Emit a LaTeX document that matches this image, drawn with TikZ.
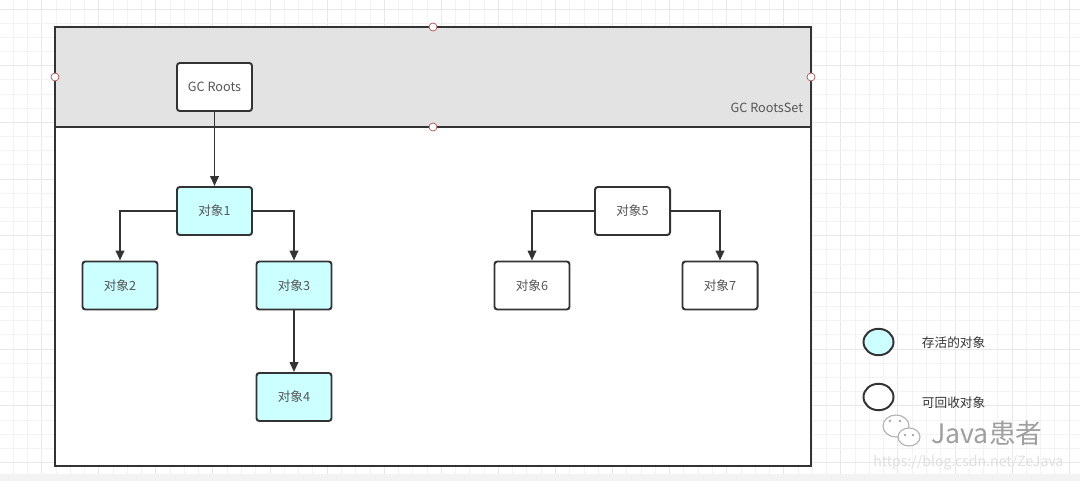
\documentclass[tikz,border=0pt]{standalone}
\usepackage{fontspec}
\setmainfont{Noto Sans CJK SC}
\usetikzlibrary{arrows.meta,shapes.geometric}

\definecolor{linec}{HTML}{333333}
\definecolor{livec}{HTML}{CCFFFF}
\definecolor{bandc}{HTML}{E3E3E3}
\definecolor{txtc}{HTML}{555555}
\definecolor{gridminor}{HTML}{F3F3F3}
\definecolor{gridmajor}{HTML}{E8E8E8}
\definecolor{handlec}{HTML}{B05050}

\begin{document}
\begin{tikzpicture}[x=0.025cm, y=-0.025cm,
		obj/.style={draw=linec, line width=1.4pt, rounded corners=2pt, fill=white,
			minimum width=1.875cm, minimum height=1.2cm, inner sep=0pt, text=txtc,
			font=\fontsize{9}{10}\selectfont},
		live/.style={obj, fill=livec},
		arr/.style={draw=linec, line width=1.4pt, -{Triangle[length=7pt,width=6pt]}},
		link/.style={draw=linec, line width=1.4pt},
		handle/.style={draw=handlec, fill=white, line width=0.5pt},
		legend/.style={ellipse, draw=linec, line width=1.4pt, minimum width=0.75cm, minimum height=0.66cm, inner sep=0pt},
		legtext/.style={anchor=west, text=linec, font=\fontsize{9}{10}\selectfont}]
	
	\useasboundingbox (0,0) rectangle (1080,481);
	
	% grid
	\fill[white] (0,0) rectangle (1080,481);
	\foreach \k in {0,...,75} {
		\pgfmathsetmacro{\gx}{13.17+14.27*\k}
		\pgfmathtruncatemacro{\gm}{mod(\k+2,4)}
		\ifnum\gm=0
			\draw[gridmajor, line width=0.7pt] (\gx,0) -- (\gx,474);
		\else
			\draw[gridminor, line width=0.6pt] (\gx,0) -- (\gx,474);
		\fi
	}
	\foreach \k in {0,...,33} {
		\pgfmathsetmacro{\gy}{9+14.17*\k}
		\pgfmathtruncatemacro{\gm}{mod(\k,4)}
		\ifnum\gm=0
			\draw[gridmajor, line width=0.7pt] (0,\gy) -- (1080,\gy);
		\else
			\draw[gridminor, line width=0.6pt] (0,\gy) -- (1080,\gy);
		\fi
	}
	\fill[gridminor] (0,474) rectangle (1080,481);
	
	% frame
	\fill[white] (55,27) rectangle (811,466);
	\fill[bandc] (55,27) rectangle (811,127);
	\draw[link] (55,127) -- (811,127);
	\draw[link] (55,27) rectangle (811,466);
	\node[anchor=east, text=txtc, font=\fontsize{9}{10}\selectfont] (rootset) at (808,108) {GC RootsSet};
	
	\foreach \hx/\hy in {433/27, 55/77, 811/77, 433/127}
		\draw[handle] (\hx,\hy) circle (4);
	
	% objects
	\node[obj] (roots) at (214.5,87) {GC Roots};
	\node[live] (o1) at (214.5,211) {对象1};
	\node[live] (o2) at (120,285.5) {对象2};
	\node[live] (o3) at (294,285.5) {对象3};
	\node[live] (o4) at (294,397) {对象4};
	\node[obj] (o5) at (632.5,211) {对象5};
	\node[obj] (o6) at (532,285.5) {对象6};
	\node[obj] (o7) at (720,285.5) {对象7};
	
	\draw[arr] (roots) -- (o1);
	\draw[arr] (o1.west) -| (o2.north);
	\draw[arr] (o1.east) -| (o3.north);
	\draw[arr] (o3) -- (o4);
	\draw[arr] (o5.west) -| (o6.north);
	\draw[arr] (o5.east) -| (o7.north);
	
	% legend
	\node[legend, fill=livec] (leg1) at (878.5,342) {};
	\node[legend, fill=white] (leg2) at (878.5,397) {};
	\node[legtext] (legtxt1) at (917,343) {存活的对象};
	\node[legtext] (legtxt2) at (917,403) {可回收对象};
	
	% watermark
	\begin{scope}[draw=gray!60, line width=0.8pt]
		\draw[fill=white] (896,426) ellipse (13 and 11);
		\draw[fill=white] (909,437) ellipse (11 and 9);
		\foreach \dx/\dy in {890/421, 900/421, 905/435, 913/435}
			\fill[gray!70] (\dx,\dy) circle (1.3);
	\end{scope}
	\node[anchor=west, text=gray!75, font=\fontsize{19}{22}\selectfont, inner sep=0pt] (wmark) at (931,433) {Java患者};
	\node[anchor=west, text=gray!25, font=\fontsize{10}{12}\selectfont, inner sep=0pt] (wurl) at (873,463) {https://blog.csdn.net/ZeJava};
	
\end{tikzpicture}
\end{document}
